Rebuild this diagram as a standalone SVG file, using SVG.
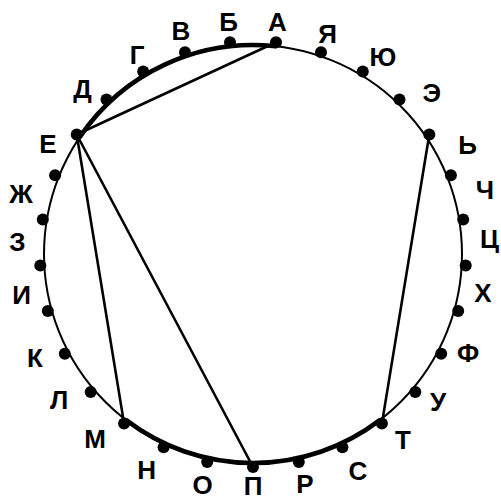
<svg xmlns="http://www.w3.org/2000/svg" width="501" height="502" viewBox="0 0 501 502">
<style>
.lbl{font-family:"Liberation Sans",Arial,sans-serif;font-weight:bold;font-size:26px;fill:#000;text-anchor:middle}
.dot{fill:#000}
.thin{fill:none;stroke:#000;stroke-width:2}
.thick{fill:none;stroke:#000;stroke-width:4.6;stroke-linecap:round}
.chord{fill:none;stroke:#000;stroke-width:2.6;stroke-linecap:round}
</style>
<rect width="501" height="502" fill="#fff"/>
<g id="circle">
<circle class="thin" cx="253" cy="254" r="209"/>
<path class="thick" d="M80.01 136.71 A209 209 0 0 1 275.6 46.22"/>
<path class="thick" d="M126.52 420.38 A209 209 0 0 0 379.48 420.38"/>
</g>
<g id="connectors">
<line class="chord" x1="76.7" y1="134.5" x2="276" y2="42.3"/>
<line class="chord" x1="76.7" y1="134.5" x2="124.1" y2="423.6"/>
<line class="chord" x1="76.7" y1="134.5" x2="253" y2="467"/>
<line class="chord" x1="429.3" y1="134.5" x2="381.9" y2="423.6"/>
</g>
<g id="node-A"><circle class="dot" cx="276" cy="42.3" r="6"/><text class="lbl" x="277.5" y="31">А</text></g>
<g id="node-B"><circle class="dot" cx="230" cy="42.3" r="6"/><text class="lbl" x="228.7" y="31">Б</text></g>
<g id="node-V"><circle class="dot" cx="185" cy="52.2" r="6"/><text class="lbl" x="181" y="40">В</text></g>
<g id="node-G"><circle class="dot" cx="143.2" cy="71.5" r="6"/><text class="lbl" x="137" y="63.8">Г</text></g>
<g id="node-D"><circle class="dot" cx="106.5" cy="99.4" r="6"/><text class="lbl" x="82.5" y="98">Д</text></g>
<g id="node-E"><circle class="dot" cx="76.7" cy="134.5" r="6"/><text class="lbl" x="48" y="153">Е</text></g>
<g id="node-Zh"><circle class="dot" cx="55.1" cy="175.2" r="6"/><text class="lbl" x="21" y="203">Ж</text></g>
<g id="node-Z"><circle class="dot" cx="42.8" cy="219.5" r="6"/><text class="lbl" x="17.5" y="251">З</text></g>
<g id="node-I"><circle class="dot" cx="40.3" cy="265.5" r="6"/><text class="lbl" x="21.7" y="304">И</text></g>
<g id="node-l10"><circle class="dot" cx="47.8" cy="311" r="6"/></g>
<g id="node-K"><circle class="dot" cx="64.8" cy="353.7" r="6"/><text class="lbl" x="35" y="367">К</text></g>
<g id="node-L"><circle class="dot" cx="90.7" cy="391.9" r="6"/><text class="lbl" x="59" y="409">Л</text></g>
<g id="node-M"><circle class="dot" cx="124.1" cy="423.6" r="6"/><text class="lbl" x="95" y="448">М</text></g>
<g id="node-N"><circle class="dot" cx="163.6" cy="447.3" r="6"/><text class="lbl" x="146.7" y="478.5">Н</text></g>
<g id="node-O"><circle class="dot" cx="207.2" cy="462" r="6"/><text class="lbl" x="202.5" y="494">О</text></g>
<g id="node-P"><circle class="dot" cx="253" cy="467" r="6"/><text class="lbl" x="253" y="495">П</text></g>
<g id="node-R"><circle class="dot" cx="298.8" cy="462" r="6"/><text class="lbl" x="305" y="493">Р</text></g>
<g id="node-S"><circle class="dot" cx="342.4" cy="447.3" r="6"/><text class="lbl" x="358" y="479.5">С</text></g>
<g id="node-T"><circle class="dot" cx="381.9" cy="423.6" r="6"/><text class="lbl" x="403" y="449">Т</text></g>
<g id="node-U"><circle class="dot" cx="415.3" cy="391.9" r="6"/><text class="lbl" x="438" y="410.5">У</text></g>
<g id="node-F"><circle class="dot" cx="441.2" cy="353.7" r="6"/><text class="lbl" x="468" y="362">Ф</text></g>
<g id="node-r10"><circle class="dot" cx="458.2" cy="311" r="6"/></g>
<g id="node-Kh"><circle class="dot" cx="465.7" cy="265.5" r="6"/><text class="lbl" x="483" y="302">Х</text></g>
<g id="node-Ts"><circle class="dot" cx="463.2" cy="219.5" r="6"/><text class="lbl" x="489.5" y="248">Ц</text></g>
<g id="node-Ch"><circle class="dot" cx="450.9" cy="175.2" r="6"/><text class="lbl" x="485" y="198.5">Ч</text></g>
<g id="node-Soft"><circle class="dot" cx="429.3" cy="134.5" r="6"/><text class="lbl" x="467.5" y="153.5">Ь</text></g>
<g id="node-Eh"><circle class="dot" cx="399.5" cy="99.4" r="6"/><text class="lbl" x="431.7" y="102">Э</text></g>
<g id="node-Yu"><circle class="dot" cx="362.8" cy="71.5" r="6"/><text class="lbl" x="383" y="66">Ю</text></g>
<g id="node-Ya"><circle class="dot" cx="321" cy="52.2" r="6"/><text class="lbl" x="327.5" y="42.5">Я</text></g>
</svg>
